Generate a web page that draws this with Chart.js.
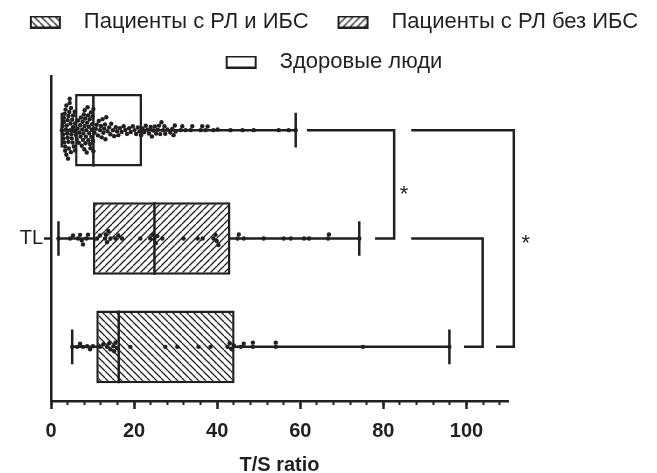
<!DOCTYPE html>
<html>
<head>
<meta charset="utf-8">
<script src="https://cdn.jsdelivr.net/npm/chart.js@4.4.0/dist/chart.umd.min.js"></script>
<style>
  html, body { margin: 0; padding: 0; background: #fff; }
  #wrap { width: 657px; height: 473px; }
</style>
</head>
<body>
<div id="wrap"><canvas id="chart"></canvas></div>
<script>
// groups in legend order; row 0 is the top row of the plot
const groupNames = ['Пациенты с РЛ и ИБС', 'Пациенты с РЛ без ИБС', 'Здоровые люди'];
const groupRows = [2, 1, 0];
const rowLabels = ['', 'TL', ''];

// box plot summary (T/S ratio)
const q1Values = [10.9, 10.1, 5.8];
const medianValues = [16.3, 24.9, 10.2];
const q3Values = [44.2, 43.2, 21.9];
const minValues = [5.1, 1.8, 2.6];
const maxValues = [95.9, 74.2, 58.9];

// individual observations
const ihdPoints = [5.1, 6.3, 7.0, 7.7, 8.7, 9.4, 10.1, 11.8, 12.6, 13.5, 14.0, 14.3, 15.0, 15.2, 15.5, 15.9,
  19.1, 27.5, 30.4, 35.5, 38.4, 42.5, 43.0, 43.4, 44.0, 45.7, 46.4, 48.6, 48.6, 54.1, 54.1, 75.1, 95.9];
const noIhdPoints = [1.8, 4.6, 5.3, 6.5, 7.0, 7.4, 7.7, 8.5, 8.9, 11.1, 11.8, 13.0, 13.2, 13.5, 13.8, 14.3,
  15.5, 16.2, 17.1, 21.5, 23.9, 24.4, 24.9, 25.2, 25.6, 26.8, 31.9, 35.3, 36.5, 39.1, 39.6, 39.9, 40.3,
  44.9, 45.2, 46.4, 51.2, 56.0, 57.7, 60.9, 62.1, 66.7, 66.9, 74.2];
const healthyPoints = [2.6, 2.8, 2.9, 3.0, 3.1, 3.1, 3.2, 3.3, 3.4, 3.4, 3.5, 3.6, 3.7, 3.7, 3.8, 3.9, 4.0, 4.0,
  4.1, 4.2, 4.2, 4.3, 4.4, 4.5, 4.5, 4.6, 4.7, 4.8, 4.8, 4.9, 5.0, 5.1, 5.2, 5.3, 5.3, 5.5, 5.6, 5.7, 5.8, 5.8,
  6.0, 6.2, 6.4, 6.5, 6.7, 6.8, 7.0, 7.1, 7.2, 7.4, 7.5, 7.6, 7.7, 7.8, 7.9, 8.0, 8.1, 8.1, 8.2, 8.3, 8.4, 8.5,
  8.6, 8.7, 8.8, 8.9, 9.0, 9.1, 9.2, 9.3, 9.4, 9.5, 9.6, 9.7, 9.8, 9.9, 10.0, 10.1, 10.2, 10.2,
  10.5, 10.8, 11.0, 11.3, 11.5, 11.8, 12.0, 12.2, 12.4, 12.6, 12.8, 13.0, 13.1, 13.3,
  13.6, 14.0, 14.3, 14.5, 14.9, 15.2, 15.6, 15.9, 16.2, 16.6,
  17.0, 17.5, 17.9, 18.3, 18.8, 19.2, 19.7, 20.1,
  20.5, 20.9, 21.3, 21.7, 22.0, 22.4, 22.8, 23.2,
  23.6, 24.0, 24.3, 24.6, 25.0, 25.3, 25.7, 26.0, 26.3, 26.6, 27.0, 27.3,
  27.5, 28.0, 28.7, 29.2, 29.5, 29.8, 30.0, 31.2, 31.6, 32.4,
  33.6, 34.0, 36.0, 36.4, 37.2, 37.7, 39.1, 40.1,
  43.2, 46.1, 48.8, 54.8, 57.2, 58.9];
const groupPoints = [ihdPoints, noIhdPoints, healthyPoints];

// axis
const xMin = 0, xMax = 110, majorStep = 20, minorStep = 4;
const xTitle = 'T/S ratio';

// significance brackets (x in T/S units, y in rows) and stars
const bracketX = [[61.6, 82.6, 82.6, 78.0], [86.7, 111.4, 111.4, 107.1], [86.7, 103.9, 103.9, 99.4]];
const bracketRows = [[0, 0, 1, 1], [0, 0, 2, 2], [1, 1, 2, 2]];
const starX = [85.0, 114.3];
const starRows = [0.65, 1.11];
const starText = '*';

const ink = '#231f20';
const family = '"Liberation Sans", Arial, Helvetica, sans-serif';
const boxHalf = 0.335;
const capHalf = 0.16;

Chart.defaults.font.family = family;
Chart.defaults.color = ink;

const canvas = document.getElementById('chart');
const mainCtx = canvas.getContext('2d');

function hatch(ctx, dir) {
  const s = 7;
  const tile = document.createElement('canvas');
  tile.width = s; tile.height = s;
  const g = tile.getContext('2d');
  g.fillStyle = '#fff';
  g.fillRect(0, 0, s, s);
  g.strokeStyle = ink;
  g.lineWidth = 1.3;
  g.beginPath();
  for (let k = -1; k <= 1; k++) {
    if (dir === '/') { g.moveTo(k * s, s); g.lineTo(k * s + s, 0); }
    else { g.moveTo(k * s, 0); g.lineTo(k * s + s, s); }
  }
  g.stroke();
  return ctx.createPattern(tile, 'repeat');
}

const fillKinds = ['\\', '/', 'plain'];
const boxFills = fillKinds.map(k => k === 'plain' ? '#fff' : hatch(mainCtx, k));

// legend swatch: 30x11 box inside a wider slot, so the gap before the text matches
const swatchSlot = 54, swatchShift = 11;
function swatch(kind) {
  const c = document.createElement('canvas');
  c.width = swatchSlot; c.height = 13;
  const g = c.getContext('2d');
  g.fillStyle = kind === 'plain' ? '#fff' : hatch(g, kind);
  g.fillRect(swatchShift + 1, 1, 29, 11);
  g.strokeStyle = ink;
  g.lineWidth = 2;
  g.strokeRect(swatchShift + 1, 1, 29, 11);
  return c;
}
const swatches = fillKinds.map(swatch);

function segment(points, extra) {
  return Object.assign({
    type: 'line', data: points, xAxisID: 'x', yAxisID: 'y2',
    borderColor: ink, borderWidth: 2.5, pointRadius: 0, fill: false,
    borderCapStyle: 'butt', borderJoinStyle: 'miter', order: 1
  }, extra || {});
}

const datasets = [];

groupNames.forEach((name, i) => {
  datasets.push({
    type: 'bar', label: name, indexAxis: 'y',
    data: rowLabels.map((_, r) => r === groupRows[i] ? [q1Values[i], q3Values[i]] : null),
    backgroundColor: boxFills[i], borderColor: ink, borderWidth: 2.5, borderSkipped: false,
    grouped: false, barPercentage: boxHalf * 2, categoryPercentage: 1,
    xAxisID: 'x', yAxisID: 'y', order: 2
  });
});

groupNames.forEach((name, i) => {
  const row = groupRows[i];
  datasets.push(segment([{x: minValues[i], y: row}, {x: maxValues[i], y: row}], {order: 3}));
  datasets.push(segment([{x: minValues[i], y: row - capHalf}, {x: minValues[i], y: row + capHalf}]));
  datasets.push(segment([{x: maxValues[i], y: row - capHalf}, {x: maxValues[i], y: row + capHalf}]));
  datasets.push(segment([{x: medianValues[i], y: row - boxHalf}, {x: medianValues[i], y: row + boxHalf}]));
});

const pointSetIndex = [];
groupPoints.forEach((values, i) => {
  pointSetIndex.push(datasets.length);
  datasets.push({
    type: 'scatter', data: values.map(v => ({x: v, y: groupRows[i]})),
    xAxisID: 'x', yAxisID: 'y2', pointRadius: 2.2, pointBackgroundColor: ink,
    pointBorderWidth: 0, order: 0
  });
});

bracketX.forEach((xs, b) => {
  datasets.push(segment(xs.map((v, k) => ({x: v, y: bracketRows[b][k]})), {clip: false, order: 0}));
});

const starPlugin = {
  id: 'stars',
  afterDatasetsDraw(chart) {
    const ctx = chart.ctx;
    const xs = chart.scales.x, ys = chart.scales.y2;
    ctx.save();
    ctx.fillStyle = ink;
    ctx.font = '22px ' + family;
    ctx.textAlign = 'center';
    ctx.textBaseline = 'alphabetic';
    starX.forEach((v, i) => ctx.fillText(starText, xs.getPixelForValue(v), ys.getPixelForValue(starRows[i])));
    ctx.restore();
  }
};

// the legend block reserves a little less height than Chart.js asks for
const legendTrim = {
  id: 'legendTrim',
  beforeInit(chart) {
    const fit = chart.legend.fit;
    chart.legend.fit = function () { fit.call(this); this.height -= 7; };
  }
};

const chart = new Chart(canvas, {
  type: 'bar',
  data: { labels: rowLabels, datasets: datasets },
  options: {
    responsive: true,
    maintainAspectRatio: false,
    animation: false,
    events: [],
    layout: { padding: { left: 0, right: 0, top: -7, bottom: -4 } },
    plugins: {
      tooltip: { enabled: false },
      legend: {
        position: 'top',
        labels: {
          usePointStyle: true,
          pointStyleWidth: swatchSlot,
          padding: 18,
          color: ink,
          font: { size: 22 },
          generateLabels: c => Chart.defaults.plugins.legend.labels.generateLabels(c)
            .filter(item => item.datasetIndex < groupNames.length)
            .map(item => Object.assign(item, { pointStyle: swatches[item.datasetIndex] }))
        }
      }
    },
    scales: {
      x: {
        type: 'linear', position: 'bottom', min: xMin, max: xMax, offset: false,
        ticks: { stepSize: majorStep, includeBounds: false, color: ink, padding: 10, maxRotation: 0,
                 font: { size: 20, weight: 'bold' } },
        grid: { display: true, offset: false, drawOnChartArea: false, drawTicks: true,
                tickLength: 8, tickWidth: 2.5, tickColor: ink },
        border: { display: true, color: ink, width: 2.5 },
        title: { display: true, text: xTitle, color: ink, font: { size: 20, weight: 'bold' },
                 padding: { top: 0, bottom: 0 } }
      },
      xMinor: {
        type: 'linear', axis: 'x', position: { y2: 2.5 }, min: xMin, max: xMax, offset: false,
        ticks: { display: false, stepSize: minorStep, includeBounds: false },
        grid: { display: true, offset: false, drawOnChartArea: false, drawTicks: true,
                tickLength: 4, tickWidth: 2, tickColor: ink },
        border: { display: false }
      },
      y: {
        type: 'category', position: 'left', offset: true,
        afterFit: s => { s.width = 51; },
        ticks: { color: ink, padding: 1, font: { size: 20 } },
        grid: { display: true, offset: false, drawOnChartArea: false, drawTicks: true,
                tickLength: 7, tickWidth: 2.5,
                tickColor: c => rowLabels[c.index] ? ink : 'rgba(0,0,0,0)' },
        border: { display: true, color: ink, width: 2.5 }
      },
      y2: { type: 'linear', display: false, min: -0.5, max: 2.5, reverse: true },
      // empty strip on the right that holds the significance brackets
      yPad: {
        type: 'linear', axis: 'y', position: 'right',
        afterFit: s => { s.width = 149; },
        ticks: { display: false }, grid: { display: false }, border: { display: false }
      }
    }
  },
  plugins: [starPlugin, legendTrim]
});

// spread the observations of each group into a beeswarm around its row
function placeSwarm(ch) {
  const xs = ch.scales.x, ys = ch.scales.y2;
  const gap = 4.2;
  groupPoints.forEach((values, i) => {
    const rowPx = ys.getPixelForValue(groupRows[i]);
    const placed = [];
    ch.data.datasets[pointSetIndex[i]].data = values.slice().sort((a, b) => a - b).map(v => {
      const px = xs.getPixelForValue(v);
      const blocked = [];
      placed.forEach(p => {
        const dx = Math.abs(p.x - px);
        if (dx < gap) {
          const h = Math.sqrt(gap * gap - dx * dx);
          blocked.push([p.y - h, p.y + h]);
        }
      });
      const options = [0];
      blocked.forEach(b => options.push(b[0], b[1]));
      options.sort((a, b) => Math.abs(a) - Math.abs(b));
      const off = options.find(c => blocked.every(b => c <= b[0] + 1e-6 || c >= b[1] - 1e-6));
      placed.push({x: px, y: off});
      return {x: v, y: ys.getValueForPixel(rowPx + off)};
    });
  });
  ch.update('none');
}
placeSwarm(chart);
</script>
</body>
</html>
